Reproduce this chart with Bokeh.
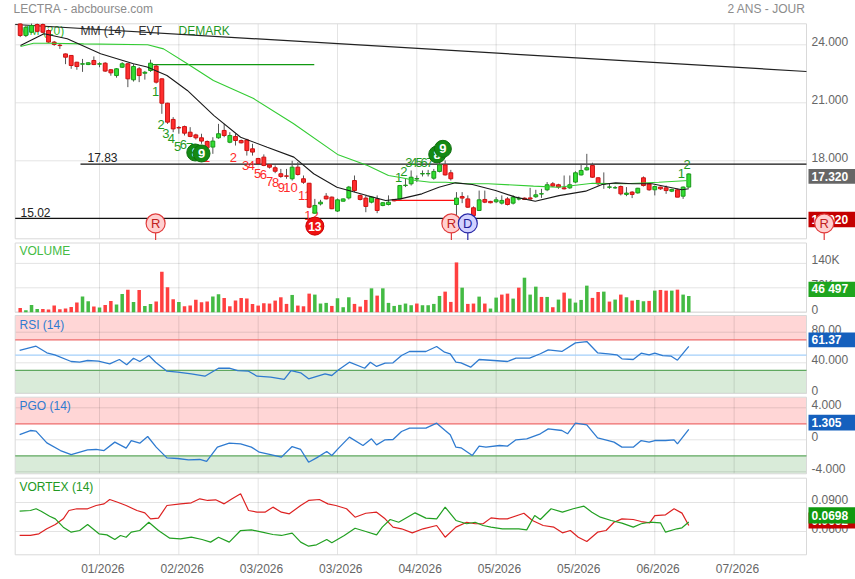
from bokeh.plotting import figure
from bokeh.models import ColumnDataSource, Range1d
from bokeh.core.properties import value
from bokeh.embed import file_html
from bokeh.resources import INLINE

FONT = "Liberation Sans"

# ---------------- data ----------------
opens = [25.08, 24.48, 24.65, 25.05, 25.05, 24.74, 24.14, 23.98, 23.53, 23.45,
         23.10, 23.00, 22.98, 23.19, 23.00, 23.05, 22.71, 22.41, 22.84, 23.02,
         22.19, 22.76, 22.53, 22.67, 22.90, 22.24, 20.98, 20.14, 19.72, 19.77,
         19.48, 19.34, 19.19, 19.00, 18.71, 19.19, 19.57, 18.96, 19.26, 19.05,
         19.08, 18.62, 18.12, 18.19, 17.79, 17.64, 17.33, 17.22, 17.07, 17.67,
         17.07, 16.84, 15.29, 15.77, 16.17, 16.12, 15.40, 15.91, 16.08, 16.98,
         16.21, 16.07, 15.86, 16.03, 15.69, 15.74, 16.00, 16.03, 16.72, 16.81,
         17.06, 17.32, 17.33, 17.10, 17.45, 17.79, 17.38, 15.74, 16.15, 16.03,
         15.57, 15.43, 16.00, 15.90, 15.88, 15.81, 16.03, 15.81, 16.02, 16.07,
         16.08, 16.14, 16.28, 16.50, 16.81, 16.76, 16.60, 16.60, 16.90, 17.27,
         17.53, 17.76, 17.12, 16.80, 16.63, 16.60, 16.67, 16.26, 16.38, 16.34,
         17.12, 16.81, 16.50, 16.64, 16.60, 16.43, 16.50, 16.17, 16.64]
highs = [25.10, 25.00, 25.10, 25.10, 25.10, 24.80, 24.20, 24.05, 23.55, 23.45,
         23.12, 23.27, 23.10, 23.40, 23.10, 23.10, 22.75, 22.80, 23.10, 23.05,
         23.00, 22.85, 22.65, 23.23, 23.00, 22.26, 21.00, 20.26, 19.80, 19.82,
         19.74, 19.40, 19.40, 19.05, 19.22, 19.91, 19.91, 19.48, 19.40, 19.10,
         19.14, 18.88, 18.15, 18.33, 17.80, 17.76, 17.58, 17.58, 18.00, 17.93,
         17.24, 16.85, 16.03, 15.98, 16.33, 16.15, 16.05, 16.05, 16.70, 17.24,
         16.25, 16.21, 16.15, 16.21, 15.86, 16.21, 16.02, 16.75, 17.07, 17.50,
         17.24, 17.50, 17.53, 17.58, 17.96, 18.02, 17.53, 16.38, 16.38, 16.21,
         15.64, 16.46, 16.46, 15.93, 16.12, 16.21, 16.12, 16.21, 16.15, 16.10,
         16.60, 16.50, 16.55, 16.90, 16.90, 16.81, 17.24, 17.24, 17.46, 17.84,
         18.36, 17.90, 17.15, 17.40, 16.81, 16.70, 16.72, 16.64, 16.43, 16.60,
         17.19, 16.85, 16.72, 16.66, 16.72, 16.55, 16.55, 16.67, 17.35]
lows = [24.40, 24.40, 24.60, 24.65, 24.60, 24.10, 23.95, 23.79, 23.00, 22.76,
        22.71, 22.60, 22.95, 22.95, 22.84, 22.60, 22.40, 22.30, 22.80, 21.81,
        22.10, 22.07, 22.20, 22.60, 22.00, 20.43, 19.91, 19.48, 19.40, 19.31,
        19.22, 19.10, 18.88, 18.60, 18.36, 19.14, 19.22, 18.91, 18.79, 18.90,
        18.27, 18.27, 17.80, 17.72, 17.60, 17.36, 17.12, 17.07, 16.98, 17.24,
        16.81, 15.55, 15.26, 15.69, 16.00, 15.50, 15.35, 15.90, 16.00, 16.38,
        15.95, 15.34, 15.80, 15.29, 15.65, 15.69, 15.90, 16.00, 16.64, 16.72,
        16.90, 17.19, 17.19, 17.02, 17.40, 17.24, 16.98, 15.17, 15.81, 15.57,
        15.12, 15.40, 15.81, 15.80, 15.81, 15.74, 15.69, 15.74, 15.95, 15.98,
        16.00, 16.08, 16.08, 16.43, 16.64, 16.55, 16.52, 16.55, 16.84, 17.24,
        17.50, 17.12, 16.72, 16.55, 16.55, 16.55, 16.21, 16.17, 16.07, 16.30,
        16.67, 16.45, 16.21, 16.50, 16.29, 16.38, 16.12, 16.03, 16.60]
closes = [24.48, 24.91, 25.00, 24.70, 24.65, 24.14, 24.02, 23.96, 23.36, 22.93,
          22.88, 23.02, 23.07, 22.98, 23.02, 22.64, 22.55, 22.76, 23.02, 22.24,
          22.88, 22.41, 22.58, 23.05, 22.07, 20.98, 20.00, 19.65, 19.70, 19.43,
          19.26, 19.19, 19.02, 18.67, 19.02, 19.40, 19.31, 19.31, 19.05, 18.93,
          18.53, 18.45, 17.86, 17.76, 17.67, 17.46, 17.19, 17.20, 17.67, 17.29,
          16.89, 15.60, 15.69, 15.86, 16.03, 15.52, 15.98, 16.03, 16.64, 16.46,
          16.00, 15.64, 16.12, 15.43, 15.83, 15.86, 15.93, 16.72, 16.74, 17.15,
          17.08, 17.34, 17.34, 17.45, 17.79, 17.27, 17.07, 16.07, 16.07, 15.60,
          15.17, 15.98, 15.86, 15.83, 15.98, 15.95, 15.74, 16.12, 16.04, 16.00,
          16.02, 16.24, 16.30, 16.76, 16.69, 16.64, 16.55, 16.76, 17.38, 17.50,
          17.64, 17.15, 16.81, 16.82, 16.65, 16.61, 16.29, 16.33, 16.26, 16.58,
          16.72, 16.50, 16.67, 16.55, 16.46, 16.52, 16.12, 16.64, 17.32]
volumes_k = [12.4, 5.7, 21, 9.5, 9.5, 7.6, 19, 8.6, 10.5, 15,
             27.6, 44.7, 31.4, 16.2, 13.3, 21, 32.4, 21.9, 52.4, 64.7,
             29.5, 63.8, 18, 23.8, 30.5, 116, 71.4, 37, 29.5, 17,
             19, 36, 28.5, 30.5, 44.7, 51.4, 41, 17, 33.3, 41,
             39, 23.8, 19, 25.7, 24.8, 33.3, 42.8, 23.8, 49.5, 19,
             17, 53.3, 50.5, 24.8, 26.7, 18, 40, 14.3, 42.8, 23.8,
             16.2, 35.2, 68.5, 47.6, 68.5, 26.7, 18, 21, 24.8, 20,
             24.8, 20, 20, 23.8, 46.6, 59, 29.5, 142.8, 70.4, 23.8,
             24.8, 44.7, 24.8, 10.5, 41.9, 50.5, 53.3, 39, 70.4, 99,
             50.5, 73.3, 43.8, 43.8, 14.3, 36.2, 56.2, 39, 27.6, 35.2,
             76.2, 41, 58, 59, 30.5, 36.2, 50.5, 42.8, 33.3, 35.2,
             31.4, 32.4, 61.9, 63.8, 61.9, 61.9, 64.7, 50.5, 46.5]
vol_up = [0, 1, 1, 1, 0, 0, 0, 0, 0, 0, 0, 1, 1, 0, 1, 0, 0, 1, 1, 0,
          1, 0, 1, 1, 0, 0, 0, 0, 1, 0, 0, 0, 0, 0, 1, 1, 0, 0, 0, 0,
          0, 0, 0, 0, 0, 0, 0, 0, 1, 0, 0, 0, 1, 1, 1, 0, 1, 1, 1, 0,
          0, 0, 1, 0, 1, 1, 1, 1, 1, 1, 0, 1, 1, 1, 1, 0, 0, 0, 1, 0,
          0, 1, 0, 1, 1, 0, 0, 1, 0, 1, 1, 1, 0, 1, 0, 1, 0, 1, 1, 1,
          1, 0, 0, 1, 0, 1, 0, 1, 0, 1, 1, 0, 1, 0, 0, 1, 0, 1, 1]

mm20_x = [0.05, 2.35, 5.35, 11.2, 22.5, 25.3, 29.5, 34.1, 41.2, 48.2, 56.0, 61.3, 65.0,
          67.1, 69.8, 72.4, 75.1, 78.9, 82.6, 90.6, 95.0, 101.0, 106.8, 112.7, 118.0]
mm20_y = [23.91, 24.08, 24.08, 24.05, 24.00, 23.79, 23.02, 22.15, 21.22, 19.93, 18.33, 17.76,
          17.24, 17.14, 16.98, 16.89, 16.89, 16.81, 16.81, 16.69, 16.63, 16.84, 16.81, 16.89, 16.98]
mm14_x = [0.05, 4.2, 8.3, 14.2, 20.0, 22.4, 25.9, 29.5, 34.2, 38.9, 43.6, 48.3, 51.8, 55.9,
          61.2, 64.5, 67.1, 70.9, 73.9, 76.8, 79.8, 83.9, 87.4, 90.9, 95.1, 99.8, 102.7, 105.1,
          108.0, 111.5, 113.9, 116.8, 118.0]
mm14_y = [23.96, 24.57, 24.31, 23.54, 23.02, 22.85, 22.41, 21.64, 20.34, 19.22, 18.70, 18.19,
          17.33, 16.63, 16.20, 15.95, 16.03, 16.29, 16.63, 16.86, 16.77, 16.46, 16.12, 15.91,
          16.20, 16.43, 16.77, 16.86, 16.81, 16.81, 16.67, 16.50, 16.55]
trend_x = [-0.88, 138.77]
trend_y = [25.05, 22.62]

level_x0 = [10.64, -0.88, 23.0, 65.9]
level_x1 = [138.77, 138.77, 51.9, 76.8]
level_y = [17.83, 15.02, 22.98, 15.95]
level_names = ["17.83", "15.02"]

rsi_x = [-0.1, 2.8, 4.7, 6.1, 9.0, 10.5, 11.9, 13.8, 15.8, 17.5, 18.8, 20.0, 21.1, 22.7, 23.9,
         25.9, 27.8, 30.2, 32.6, 35.0, 36.9, 38.4, 40.3, 41.8, 44.2, 46.6, 47.8, 49.5, 50.9,
         53.8, 55.0, 56.2, 58.1, 60.8, 61.8, 62.9, 64.4, 65.8, 67.3, 68.7, 71.6, 73.5, 74.9,
         75.9, 76.9, 77.8, 79.5, 81.0, 83.6, 86.0, 87.5, 89.9, 91.8, 93.2, 95.6, 98.0, 100.0,
         101.9, 103.8, 105.3, 106.2, 108.2, 109.6, 111.0, 112.0, 113.4, 114.9, 116.0, 118.0]
rsi_y = [56.1, 61.7, 53.1, 50.4, 41.7, 40.8, 43.0, 42.1, 38.7, 44.3, 37.4, 46.0, 41.7, 49.5, 40.8,
         29.0, 27.7, 25.6, 22.5, 32.9, 32.9, 29.9, 29.0, 22.5, 21.2, 18.2, 29.9, 26.9, 19.1,
         25.6, 23.4, 30.8, 40.8, 32.9, 40.8, 35.2, 39.5, 40.0, 49.5, 54.8, 54.8, 61.3, 53.9,
         51.8, 40.8, 40.0, 34.3, 44.3, 43.0, 41.7, 46.0, 46.0, 51.8, 57.0, 54.8, 66.1, 67.8,
         53.1, 51.8, 50.4, 45.2, 44.3, 52.5, 50.4, 52.5, 49.5, 48.6, 43.4, 61.37]

pgo_x = [-0.1, 1.8, 2.8, 4.7, 7.1, 9.0, 11.9, 13.4, 14.8, 16.7, 18.7, 19.6, 21.1, 22.5, 24.0,
         25.9, 27.8, 29.7, 31.7, 32.9, 34.8, 36.9, 38.9, 40.8, 42.2, 44.2, 46.1, 48.0, 49.5,
         50.9, 52.3, 54.1, 55.0, 56.2, 58.1, 60.5, 62.0, 62.9, 64.4, 65.8, 67.3, 68.7, 71.6,
         73.5, 75.0, 75.9, 76.9, 77.8, 79.8, 81.0, 82.2, 84.6, 86.0, 87.5, 89.4, 91.8, 93.2,
         95.6, 96.6, 98.0, 100.0, 101.9, 103.3, 104.8, 106.2, 108.2, 109.6, 111.0, 112.0,
         113.9, 115.4, 116.0, 118.0]
pgo_y = [0.66, 1.16, 1.08, -0.38, -1.34, -1.84, -1.25, -1.21, -1.34, -0.29, -1.04, -0.09, -0.42,
         0.41, -0.92, -2.26, -2.34, -2.5, -2.46, -2.71, -0.92, -0.42, -0.5, -0.92, -1.55, -1.84,
         -2.17, -0.84, -1.21, -2.8, -2.26, -1.46, -1.96, -1.04, 0.33, -0.71, 0.12, -0.63, 0.0,
         0.04, 1.04, 1.45, 1.45, 2.08, 1.16, 0.62, -0.92, -1.0, -1.96, -0.79, -0.92, -0.71,
         -0.79, 0.0, 0.12, 0.75, 1.37, 1.16, 0.75, 2.08, 1.87, 0.25, 0.0, -0.29, -0.92, -0.92,
         -0.09, -0.29, -0.09, -0.09, 0.0, -0.5, 1.305]

vip_x = [-0.1, 1.8, 2.8, 3.7, 5.2, 6.2, 7.6, 9.0, 10.5, 11.9, 13.9, 15.3, 16.7, 17.7, 18.7, 19.6,
         21.1, 22.7, 24.4, 26.4, 28.3, 30.2, 32.1, 33.6, 35.0, 36.9, 38.9, 40.8, 42.7, 44.6,
         46.1, 48.0, 49.5, 50.9, 52.3, 54.1, 55.0, 57.2, 59.1, 61.0, 62.9, 63.9, 65.3, 66.8,
         69.7, 71.6, 73.5, 75.0, 76.9, 78.8, 80.3, 81.7, 83.1, 85.1, 88.0, 89.4, 90.8, 91.8,
         93.7, 95.7, 97.6, 99.5, 100.9, 102.4, 104.3, 106.2, 108.2, 109.6, 111.1, 113.0, 113.9,
         115.9, 116.8, 118.0]
vip_y = [0.0810, 0.0817, 0.0835, 0.0810, 0.0758, 0.0731, 0.0645, 0.0593, 0.0610, 0.0672,
         0.0576, 0.0565, 0.0517, 0.0559, 0.0541, 0.0593, 0.0610, 0.0696, 0.0610, 0.0531,
         0.0524, 0.0541, 0.0517, 0.0490, 0.0541, 0.0490, 0.0610, 0.0617, 0.0593, 0.0569,
         0.0559, 0.0583, 0.0490, 0.0448, 0.0462, 0.0517, 0.0483, 0.0559, 0.0634, 0.0600,
         0.0565, 0.0645, 0.0724, 0.0696, 0.0793, 0.0738, 0.0731, 0.0852, 0.0714, 0.0680,
         0.0696, 0.0662, 0.0645, 0.0628, 0.0628, 0.0617, 0.0765, 0.0724, 0.0835, 0.0800,
         0.0835, 0.0862, 0.0800, 0.0748, 0.0714, 0.0686, 0.0645, 0.0680, 0.0696, 0.0690,
         0.0593, 0.0628, 0.0638, 0.0698]
vim_x = [-0.1, 1.8, 3.3, 4.7, 6.2, 7.6, 8.6, 10.0, 11.9, 13.4, 14.8, 15.8, 17.2, 18.7, 20.6,
         22.0, 23.0, 24.4, 25.9, 28.3, 30.2, 31.7, 33.1, 34.5, 36.0, 37.4, 38.9, 40.3, 41.8,
         43.2, 44.6, 46.1, 47.5, 49.5, 50.9, 52.8, 54.3, 55.7, 57.6, 59.1, 61.0, 62.9, 64.4,
         65.8, 67.3, 69.2, 71.1, 73.5, 75.0, 76.9, 78.8, 80.3, 81.7, 83.1, 84.6, 86.0, 88.9,
         90.4, 92.3, 94.2, 95.7, 97.1, 98.5, 100.0, 101.9, 103.4, 104.8, 106.2, 108.2, 109.6,
         111.1, 112.0, 113.9, 115.4, 116.8, 118.0]
vim_y = [0.0559, 0.0559, 0.0576, 0.0628, 0.0672, 0.0731, 0.0817, 0.0835, 0.0835, 0.0869,
         0.0886, 0.0931, 0.0903, 0.0869, 0.0817, 0.0793, 0.0731, 0.0738, 0.0869, 0.0886,
         0.0897, 0.0938, 0.0921, 0.0928, 0.0886, 0.0938, 0.0990, 0.0817, 0.0800, 0.0800,
         0.0852, 0.0800, 0.0783, 0.0869, 0.0921, 0.0931, 0.0886, 0.0869, 0.0835, 0.0748,
         0.0789, 0.0800, 0.0731, 0.0645, 0.0628, 0.0586, 0.0628, 0.0662, 0.0541, 0.0645,
         0.0696, 0.0680, 0.0680, 0.0741, 0.0731, 0.0731, 0.0789, 0.0714, 0.0662, 0.0645,
         0.0586, 0.0610, 0.0541, 0.0497, 0.0593, 0.0610, 0.0696, 0.0731, 0.0724, 0.0703,
         0.0690, 0.0765, 0.0773, 0.0835, 0.0790, 0.0662]

# DeMark counts
setup_x = [23.9, 24.85, 25.7, 26.7, 27.8, 28.8, 29.9, 66.8, 67.7, 68.6, 69.5, 70.4, 71.3, 72.3,
           116.7, 117.7]
setup_y = [21.58, 19.88, 19.41, 19.15, 18.74, 18.84, 18.69, 17.15, 17.46, 17.93, 17.93, 17.93,
           17.93, 17.93, 17.33, 17.79]
setup_t = ["1", "2", "3", "4", "5", "6", "7", "1", "2", "3", "4", "5", "6", "7", "1", "2"]
count_x = [32.9, 37.6, 39.8, 40.8, 41.9, 42.9, 44.0, 45.1, 46.1, 47.7, 50.2, 51.4]
count_y = [18.17, 18.17, 17.76, 17.76, 17.34, 17.29, 16.93, 16.88, 16.62, 16.62, 16.20, 15.16]
count_t = ["1", "2", "3", "4", "5", "6", "7", "8", "9", "10", "11", "12"]
badge_x = [30.9, 32.0, 73.6, 74.6]
badge_y = [18.43, 18.38, 18.33, 18.62]
badge_t = ["8", "9", "8", "9"]
badge13_x = [52.0]
badge13_y = [14.62]
badge13_t = ["13"]

event_x = [23.9, 76.1, 79.0, 141.9]
event_t = ["R", "R", "D", "R"]
event_y = 14.76

# tick values and labels
x_ticks = [14, 28, 42, 56, 70, 84, 98, 112, 126]
x_labels = ["01/2026", "02/2026", "03/2026", "03/2026", "04/2026", "05/2026", "05/2026",
            "06/2026", "07/2026"]
price_ticks = [15, 18, 21, 24]
price_labels = ["", "18.000", "21.000", "24.000"]
vol_ticks = [0, 70000, 140000]
vol_labels = ["0", "70K", "140K"]
rsi_ticks = [0, 40, 80]
rsi_labels = ["0", "40.000", "80.00"]
pgo_ticks = [-4, 0, 4]
pgo_labels = ["-4.000", "0", "4.000"]
vi_ticks = [0.06, 0.09]
vi_labels = ["0.0600", "0.0900"]

last_values = {"main": ["17.320", "15.020"], "vol": ["46 497"], "rsi": ["61.37"],
               "pgo": ["1.305"], "vi": ["0.0662", "0.0698"]}

# ---------------- geometry: one canvas, one scale per panel ----------------
W, H = 855, 579
BAR0, STEP = 19.7, 5.666          # pixel of first bar, pixels per bar


def xv(px):
    return (px - BAR0) / STEP


# value at pixel row 0, value per pixel row (downwards)
SCALE = {
    "main": (18 + 160.3 / 19.33, -1 / 19.33),
    "vol": (311.7 * 2868.9, -2868.9),
    "rsi": (80 + 331.7 / 0.765, -1 / 0.765),
    "pgo": (439.3 / 8, -1 / 8),
    "vi": (0.06 + 531 * 0.0010345, -0.0010345),
}


def yv(name, py):
    a, b = SCALE[name]
    return a + b * py


def rng(name):
    return Range1d(yv(name, H), yv(name, 0))


p = figure(width=W, height=H, x_range=Range1d(xv(0), xv(W)), y_range=rng("main"),
           output_backend="svg", toolbar_location=None, title=None,
           x_axis_location=None, y_axis_location=None, min_border=0)
for n in ["vol", "rsi", "pgo", "vi"]:
    p.extra_y_ranges[n] = rng(n)
p.outline_line_color = None
p.background_fill_color = "white"
p.border_fill_color = "white"
p.grid.visible = False


def R(n):
    return "default" if n == "main" else n


XL, XRt = xv(14.7), xv(806)
PANELS = [("main", 23.3, 238.3), ("vol", 242.5, 311.7), ("rsi", 315, 392.9),
          ("pgo", 396.7, 473.3), ("vi", 477.7, 554.3)]
YTICKS = {"main": (price_ticks, price_labels), "vol": (vol_ticks, vol_labels),
          "rsi": (rsi_ticks, rsi_labels), "pgo": (pgo_ticks, pgo_labels),
          "vi": (vi_ticks, vi_labels)}


def txt(n, x, y, t, color, size="12px", align="left", bold=False):
    p.text(x=x, y=y, text=t, text_color=color, text_font=value(FONT),
           text_font_size=size, text_align=align, text_baseline="middle",
           text_font_style="bold" if bold else "normal", y_range_name=R(n))


# panel backgrounds, bands, grid, outline
for n, t_px, b_px in PANELS:
    top, bot = yv(n, t_px), yv(n, b_px)
    p.quad(left=[XL], right=[XRt], top=[top], bottom=[bot], fill_color="white",
           line_color=None, y_range_name=R(n))
    if n == "rsi":
        p.quad(left=[XL], right=[XRt], top=[top], bottom=[70], fill_color="#ff0000",
               fill_alpha=0.16, line_color=None, y_range_name=n)
        p.quad(left=[XL], right=[XRt], top=[30], bottom=[bot], fill_color="#007a00",
               fill_alpha=0.15, line_color=None, y_range_name=n)
    if n == "pgo":
        p.quad(left=[XL], right=[XRt], top=[top], bottom=[2], fill_color="#ff0000",
               fill_alpha=0.16, line_color=None, y_range_name=n)
        p.quad(left=[XL], right=[XRt], top=[-2], bottom=[bot], fill_color="#007a00",
               fill_alpha=0.15, line_color=None, y_range_name=n)
    ticks, labels = YTICKS[n]
    p.segment(x0=[XL] * len(ticks), y0=ticks, x1=[XRt] * len(ticks), y1=ticks,
              line_color="#000000", line_alpha=0.11, line_width=1, y_range_name=R(n))
    p.segment(x0=x_ticks, y0=[bot] * len(x_ticks), x1=x_ticks, y1=[top] * len(x_ticks),
              line_color="#000000", line_alpha=0.11, line_width=1, y_range_name=R(n))
    p.quad(left=[XL], right=[XRt], top=[top], bottom=[bot], fill_color=None,
           line_color="#d9d9d9", line_width=1, y_range_name=R(n))
    # tick labels on the right
    off = 3 * abs(SCALE[n][1])
    txt(n, [xv(811)] * len(ticks), [t + off for t in ticks], labels, "#666666")

# threshold lines
p.segment(x0=[XL], y0=[70], x1=[XRt], y1=[70], line_color="#ee6a6a", line_width=1.2,
          y_range_name="rsi")
p.segment(x0=[XL], y0=[50], x1=[XRt], y1=[50], line_color="#a3cffa", line_width=1.2,
          y_range_name="rsi")
p.segment(x0=[XL], y0=[30], x1=[XRt], y1=[30], line_color="#5fa85f", line_width=1.2,
          y_range_name="rsi")
p.segment(x0=[XL], y0=[2], x1=[XRt], y1=[2], line_color="#ee6a6a", line_width=1.2,
          y_range_name="pgo")
p.segment(x0=[XL], y0=[-2], x1=[XRt], y1=[-2], line_color="#5fa85f", line_width=1.2,
          y_range_name="pgo")

# ---------------- main price panel ----------------
txt("main", [xv(13)], [yv("main", 8.5)], ["LECTRA - abcbourse.com"], "#8c8c8c")
txt("main", [xv(805)], [yv("main", 8.5)], ["2 ANS - JOUR"], "#8c8c8c", align="right")
legend_y = yv("main", 30)
txt("main", [xv(19)], [legend_y], ["MM (20)"], "#33bb33")
txt("main", [xv(80)], [legend_y], ["MM (14)"], "#333333")
txt("main", [xv(138)], [legend_y], ["EVT"], "#333333")
txt("main", [xv(178)], [legend_y], ["DEMARK"], "#1f9a1f")

p.line(trend_x, trend_y, line_color="#222222", line_width=1.2)
p.segment(x0=level_x0[:2], y0=level_y[:2], x1=level_x1[:2], y1=level_y[:2],
          line_color="#111111", line_width=1.3)
p.segment(x0=[level_x0[2]], y0=[level_y[2]], x1=[level_x1[2]], y1=[level_y[2]],
          line_color="#119911", line_width=1.2)
p.segment(x0=[level_x0[3]], y0=[level_y[3]], x1=[level_x1[3]], y1=[level_y[3]],
          line_color="#ff1111", line_width=1.2)
txt("main", [xv(87)], [yv("main", 157)], [level_names[0]], "#222222")
txt("main", [xv(20)], [yv("main", 211.5)], [level_names[1]], "#222222")

txt("main", setup_x, setup_y, setup_t, "#1f9a1f", size="13px", align="center")
txt("main", count_x, count_y, count_t, "#ff2a2a", size="13px", align="center")

idx = list(range(len(opens)))
up = [c >= o for o, c in zip(opens, closes)]
src = ColumnDataSource(dict(
    x=idx, h=highs, l=lows,
    top=[max(o, c) for o, c in zip(opens, closes)],
    bottom=[min(o, c) for o, c in zip(opens, closes)],
    fill=["#33dd33" if u else "#ff2e2e" for u in up],
    line=["#1a9a1a" if u else "#cc1111" for u in up],
))
p.segment(x0="x", y0="l", x1="x", y1="h", line_color="#555555", line_width=1, source=src)
p.vbar(x="x", width=0.68, top="top", bottom="bottom", fill_color="fill",
       line_color="line", line_width=1, source=src)

p.line(mm20_x, mm20_y, line_color="#33cc33", line_width=1.1)
p.line(mm14_x, mm14_y, line_color="#1a1a1a", line_width=1.1)

# badges: each circle drawn with its own number so later badges cover earlier ones
for bx, by, bt in zip(badge_x, badge_y, badge_t):
    p.scatter([bx], [by], size=17, fill_color="#148a14", line_color="#0e6e0e")
    txt("main", [bx], [by], [bt], "white", size="13px", align="center", bold=True)
p.scatter(badge13_x, badge13_y, size=18, fill_color="#ee1111", line_color="#cc0000")
txt("main", badge13_x, badge13_y, badge13_t, "white", size="12px", align="center", bold=True)

# ---------------- right-hand value boxes ----------------
BOX_L, BOX_R = xv(808), xv(855)


def vbox(n, top_px, bot_px, label, bg):
    p.quad(left=[BOX_L], right=[BOX_R], top=[yv(n, top_px)], bottom=[yv(n, bot_px)],
           fill_color=bg, line_color=None, y_range_name=R(n))
    txt(n, [xv(811)], [yv(n, (top_px + bot_px) / 2)], [label], "white", bold=True)


vbox("main", 168.5, 183.3, last_values["main"][0], "#666666")
vbox("main", 211.2, 226.7, last_values["main"][1], "#c40000")
vbox("vol", 281.2, 296.6, last_values["vol"][0], "#1ea51e")
vbox("rsi", 332.0, 346.8, last_values["rsi"][0], "#1560bd")
vbox("pgo", 414.3, 430.0, last_values["pgo"][0], "#1560bd")
vbox("vi", 512.0, 528.0, last_values["vi"][0], "#c40000")
vbox("vi", 506.7, 523.0, last_values["vi"][1], "#0f990f")

# events (R / D markers)
ev_fill = ["#ffd0d0", "#ffd0d0", "#d2d2ff", "#ffd0d0"]
ev_line = ["#e03c3c", "#e03c3c", "#2a2aa8", "#e03c3c"]
ev_text = ["#c02020", "#c02020", "#1f1f99", "#c02020"]
p.segment(x0=event_x, y0=[event_y] * 4, x1=event_x, y1=[yv("main", 239.5)] * 4,
          line_color=ev_line, line_width=1.2)
for ex, et, ef, el, ec in zip(event_x, event_t, ev_fill, ev_line, ev_text):
    p.scatter([ex], [event_y], size=19, fill_color=ef, line_color=el, line_width=1.2)
    txt("main", [ex], [event_y], [et], ec, size="13px", align="center")

# ---------------- volume ----------------
vsrc = ColumnDataSource(dict(x=idx, v=[v * 1000 for v in volumes_k],
                             c=["#44bb44" if u else "#ff4040" for u in vol_up]))
p.vbar(x="x", width=0.62, top="v", bottom=0, fill_color="c", line_color=None, source=vsrc,
       y_range_name="vol")
txt("vol", [xv(19)], [yv("vol", 250)], ["VOLUME"], "#44bb44")

# ---------------- RSI / PGO / VORTEX ----------------
p.line(rsi_x, rsi_y, line_color="#2f7bd0", line_width=1.3, y_range_name="rsi")
txt("rsi", [xv(19)], [yv("rsi", 324)], ["RSI (14)"], "#2f7bd0")
p.line(pgo_x, pgo_y, line_color="#2f7bd0", line_width=1.3, y_range_name="pgo")
txt("pgo", [xv(19)], [yv("pgo", 405)], ["PGO (14)"], "#2f7bd0")
p.line(vim_x, vim_y, line_color="#dd2222", line_width=1.2, y_range_name="vi")
p.line(vip_x, vip_y, line_color="#22a022", line_width=1.2, y_range_name="vi")
txt("vi", [xv(19)], [yv("vi", 486)], ["VORTEX (14)"], "#229922")

# date labels
txt("vi", [t + 3.3 / STEP for t in x_ticks], [yv("vi", 568)] * len(x_ticks), x_labels,
    "#666666", align="center")

open("out.html", "w").write(file_html(p, INLINE))
